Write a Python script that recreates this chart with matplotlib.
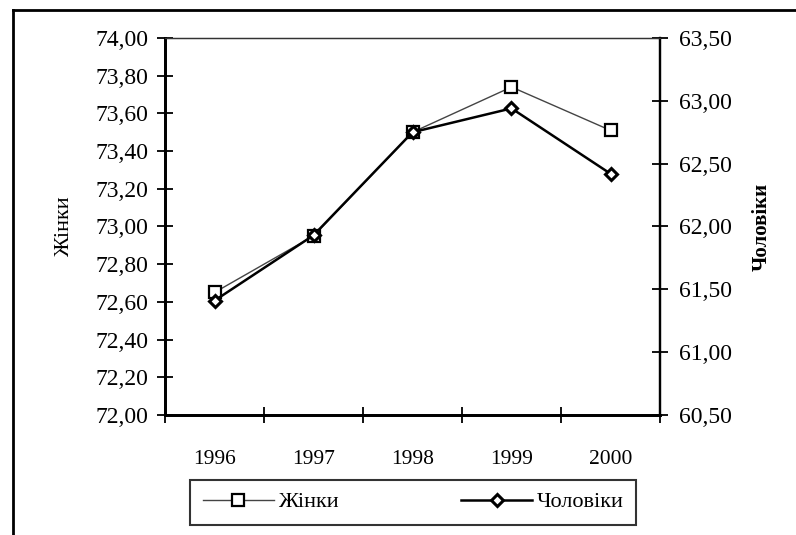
import numpy as np
import matplotlib
matplotlib.use("Agg")
import matplotlib.pyplot as plt
from matplotlib.ticker import FixedLocator, FuncFormatter
from matplotlib.lines import Line2D

plt.rcParams.update({'font.family': ['Liberation Serif', 'DejaVu Serif'], 'font.size': 15})

years = ['1996', '1997', '1998', '1999', '2000']
zhinky = [72.65, 72.95, 73.50, 73.74, 73.51]
choloviky = [61.41, 61.93, 62.75, 62.94, 62.42]

left_ticks = np.arange(72.0, 74.01, 0.2)
right_ticks = np.arange(60.5, 63.51, 0.5)

def comma(v, pos=None):
    return "{:.2f}".format(v).replace('.', ',')

fig = plt.figure(figsize=(7.96, 5.35), dpi=100)
ax1 = fig.add_axes([165/796, 1-415/535, 495/796, 377/535])
ax2 = ax1.twinx()

x = np.arange(len(years))
l1, = ax1.plot(x, zhinky, color='#444444', lw=1.0, marker='s', ms=8.5,
               mfc='white', mec='black', mew=1.6, label='Жінки')
l2, = ax2.plot(x, choloviky, color='black', lw=1.8, marker='D', ms=6,
               mfc='white', mec='black', mew=2.2, label='Чоловіки')

ax1.set_xlim(-0.5, len(years)-0.5)
ax1.set_ylim(72.0, 74.0)
ax2.set_ylim(60.5, 63.5)

ax1.xaxis.set_major_locator(FixedLocator(x))
ax1.set_xticklabels(years, fontsize=15.5)
ax1.xaxis.set_minor_locator(FixedLocator(np.arange(-0.5, len(years), 1.0)))
ax1.tick_params(axis='x', which='major', length=0, pad=25)
ax1.tick_params(axis='x', which='minor', direction='inout', length=12, width=1.3)

ax1.yaxis.set_major_locator(FixedLocator(left_ticks))
ax1.yaxis.set_major_formatter(FuncFormatter(comma))
ax1.tick_params(axis='y', direction='inout', length=12, width=1.3, pad=6, labelsize=17)

ax2.yaxis.set_major_locator(FixedLocator(right_ticks))
ax2.yaxis.set_major_formatter(FuncFormatter(comma))
ax2.tick_params(axis='y', direction='inout', length=12, width=1.3, pad=8, labelsize=17)

for ax in (ax1, ax2):
    ax.spines['top'].set_linewidth(0.9)
    ax.spines['top'].set_color('#333333')
    ax.spines['left'].set_linewidth(2)
    ax.spines['bottom'].set_linewidth(2)
    ax.spines['right'].set_linewidth(1.6)

ax1.set_ylabel('Жінки', fontsize=16, labelpad=15)
ax2.set_ylabel('Чоловіки', fontsize=15, fontweight='bold', rotation=90, labelpad=14)

leg = fig.legend([l1, l2], ['Жінки', 'Чоловіки'], loc='center',
                 bbox_to_anchor=(413/796, 1-502/535), ncol=2, frameon=True,
                 fancybox=False, edgecolor='black', handlelength=3.2,
                 columnspacing=5.5, borderpad=0.55, handletextpad=0.2, fontsize=16)
leg.get_frame().set_linewidth(1.5)

# outer chart frame (left and top edges)
fig.add_artist(Line2D([13/796, 13/796], [0, 1-10/535], color='black', lw=2, transform=fig.transFigure))
fig.add_artist(Line2D([13/796, 1], [1-10/535, 1-10/535], color='black', lw=2, transform=fig.transFigure))

fig.savefig('out.png', dpi=100)
